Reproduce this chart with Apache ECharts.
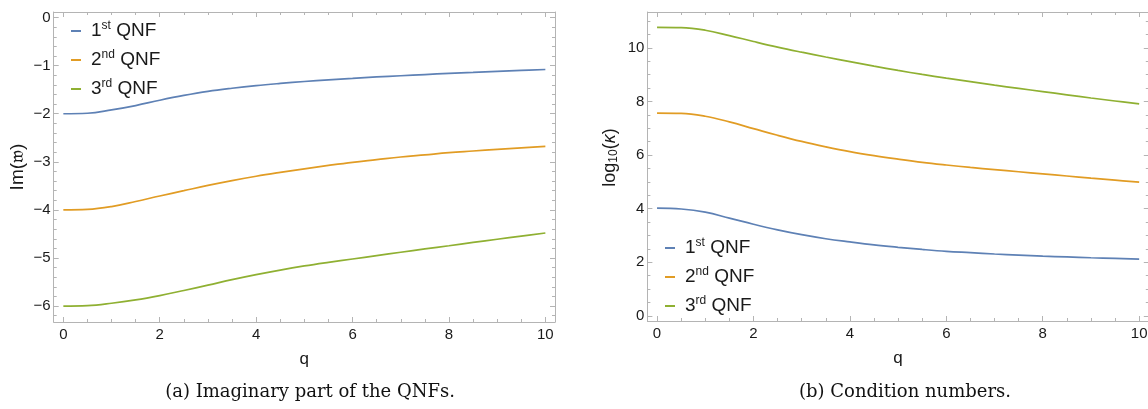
<!DOCTYPE html>
<html><head><meta charset="utf-8">
<script src="https://cdn.jsdelivr.net/npm/echarts@6/dist/echarts.min.js"></script>
<style>html,body{margin:0;padding:0;background:#fff}#c{width:1148px;height:409px}</style>
</head><body><div id="c"></div>
<script>
const seriesNames = ['1st QNF', '2nd QNF', '3rd QNF'];
const qValues = [0, 0.5, 1, 1.5, 2, 2.5, 3, 3.5, 4, 4.5, 5, 5.5, 6, 6.5, 7, 7.5, 8, 8.5, 9, 9.5, 10];
const imQnf1 = [-2.00, -1.99, -1.92, -1.83, -1.72, -1.62, -1.535, -1.47, -1.415, -1.37, -1.33, -1.295, -1.265, -1.235, -1.21, -1.185, -1.16, -1.14, -1.12, -1.10, -1.08];
const imQnf2 = [-4.00, -3.99, -3.93, -3.825, -3.71, -3.60, -3.49, -3.39, -3.30, -3.22, -3.145, -3.075, -3.01, -2.955, -2.90, -2.855, -2.81, -2.775, -2.74, -2.71, -2.68];
const imQnf3 = [-6.00, -5.99, -5.94, -5.87, -5.78, -5.675, -5.565, -5.45, -5.345, -5.25, -5.165, -5.09, -5.02, -4.95, -4.88, -4.81, -4.745, -4.675, -4.61, -4.545, -4.48];
const logKappa1 = [4.02, 3.99, 3.87, 3.65, 3.42, 3.21, 3.03, 2.88, 2.76, 2.65, 2.56, 2.48, 2.41, 2.36, 2.31, 2.27, 2.23, 2.20, 2.17, 2.145, 2.12];
const logKappa2 = [7.57, 7.56, 7.45, 7.24, 6.99, 6.74, 6.51, 6.31, 6.13, 5.98, 5.85, 5.73, 5.63, 5.54, 5.46, 5.38, 5.30, 5.22, 5.14, 5.065, 4.99];
const logKappa3 = [10.77, 10.76, 10.66, 10.46, 10.24, 10.03, 9.84, 9.66, 9.49, 9.32, 9.16, 9.01, 8.87, 8.74, 8.61, 8.49, 8.37, 8.25, 8.13, 8.02, 7.91];
const xTickLabels = [0, 2, 4, 6, 8, 10];
const imTickLabels = [-6, -5, -4, -3, -2, -1, 0];
const kappaTickLabels = [0, 2, 4, 6, 8, 10];
const captions = ['(a) Imaginary part of the QNFs.', '(b) Condition numbers.'];
const colors = ['#5E81B5', '#E19C24', '#8FB032'];

function minorTicks(lo, hi, step) {
  const out = [];
  for (let v = lo; v <= hi + 1e-9; v += step) out.push(+v.toFixed(4));
  return out;
}
const frameColor = '#b4b4b4';
const labelColor = '#1a1a1a';
const sans = 'Liberation Sans';
const fmt = v => String(v).replace('-', '\u2212');

function axisSet(dim, gi, min, max, major, minor, mainOpts) {
  const posA = dim === 'x' ? 'bottom' : 'left';
  const posB = dim === 'x' ? 'top' : 'right';
  const base = { type: 'value', gridIndex: gi, min: min, max: max, splitLine: { show: false } };
  const mk = (pos, ticks, len, line, labels) => Object.assign({}, base, {
    position: pos,
    axisLine: { show: line, onZero: false, lineStyle: { color: frameColor, width: 1 } },
    axisTick: { show: true, inside: true, length: len, customValues: ticks, lineStyle: { color: frameColor, width: 1 } },
    axisLabel: labels ? Object.assign({ show: true, customValues: major, formatter: fmt, color: labelColor, fontSize: 15, fontFamily: sans }, labels) : { show: false }
  });
  const main = Object.assign(mk(posA, major, 5, true, mainOpts.label), mainOpts.axis || {});
  return [main, mk(posA, minor, 3, false, null), mk(posB, major, 5, true, null), mk(posB, minor, 3, false, null)];
}

const xMinor = minorTicks(0, 10, 0.5);
const qName = { name: 'q', nameLocation: 'middle', nameGap: 29, nameTextStyle: { fontSize: 17, color: labelColor, fontFamily: sans } };
const xAxes = [].concat(
  axisSet('x', 0, -0.2, 10.2, xTickLabels, xMinor, { label: { margin: 5 }, axis: qName }),
  axisSet('x', 1, -0.2, 10.2, xTickLabels, xMinor, { label: { margin: 5 }, axis: qName })
);
const yAxes = [].concat(
  axisSet('y', 0, -6.33, 0.115, imTickLabels, minorTicks(-6.2, 0, 0.2), {
    label: { margin: 3 },
    axis: { name: 'Im(\uD835\uDD34)', nameLocation: 'middle', nameGap: 26, nameTextStyle: { fontSize: 19, color: labelColor, fontFamily: sans } }
  }),
  axisSet('y', 1, -0.19, 11.34, kappaTickLabels, minorTicks(0, 11, 0.5), {
    label: { margin: 3 },
    axis: {
      name: 'log{sub|10}({it|\u03BA})', nameLocation: 'middle', nameGap: 28,
      nameTextStyle: {
        fontSize: 18, color: labelColor, fontFamily: sans, padding: [0, 0, 0, 18],
        rich: {
          sub: { fontSize: 12, verticalAlign: 'bottom', padding: [7, 0, 0, 0], fontFamily: sans, color: labelColor },
          it: { fontSize: 18, fontStyle: 'italic', fontFamily: sans, color: labelColor }
        }
      }
    }
  })
);

const pairs = (ys) => qValues.map((q, i) => [q, ys[i]]);
const leftData = [imQnf1, imQnf2, imQnf3];
const rightData = [logKappa1, logKappa2, logKappa3];
const series = [];
leftData.forEach((d, i) => series.push({
  name: seriesNames[i], type: 'line', xAxisIndex: 0, yAxisIndex: 0, data: pairs(d),
  smooth: 0.4, showSymbol: false, symbol: 'none', color: colors[i], lineStyle: { width: 1.7, color: colors[i] }
}));
rightData.forEach((d, i) => series.push({
  name: seriesNames[i], type: 'line', xAxisIndex: 4, yAxisIndex: 4, data: pairs(d),
  smooth: 0.4, showSymbol: false, symbol: 'none', color: colors[i], lineStyle: { width: 1.7, color: colors[i] }
}));

const legendBase = {
  orient: 'vertical', icon: 'rect', itemWidth: 10, itemHeight: 2, itemGap: 7,
  data: seriesNames,
  formatter: n => n.replace(/^(\d)(st|nd|rd)/, '$1{sup|$2}'),
  textStyle: {
    fontSize: 19, color: labelColor, fontFamily: sans, padding: [0, 0, 0, 5], lineHeight: 22,
    rich: { sup: { fontSize: 12, verticalAlign: 'top', lineHeight: 22, padding: [0, 0, 6, 0], fontFamily: sans, color: labelColor } }
  }
};

const chart = echarts.init(document.getElementById('c'), null, { renderer: 'canvas' });
chart.setOption({
  animation: false,
  backgroundColor: '#ffffff',
  grid: [
    { left: 53.7, top: 12, width: 501.3, height: 310, containLabel: false, outerBoundsMode: 'none' },
    { left: 647.4, top: 12, width: 501.4, height: 309, containLabel: false, outerBoundsMode: 'none' }
  ],
  xAxis: xAxes,
  yAxis: yAxes,
  legend: [
    Object.assign({}, legendBase, { left: 66, top: 15 }),
    Object.assign({}, legendBase, { left: 660, top: 232 })
  ],
  title: [
    { text: captions[0], left: 305, top: 378, textAlign: 'center', textStyle: { fontFamily: 'DejaVu Serif', fontSize: 18, fontWeight: 'normal', color: '#111' } },
    { text: captions[1], left: 900, top: 378, textAlign: 'center', textStyle: { fontFamily: 'DejaVu Serif', fontSize: 18, fontWeight: 'normal', color: '#111' } }
  ],
  series: series
});
</script></body></html>
